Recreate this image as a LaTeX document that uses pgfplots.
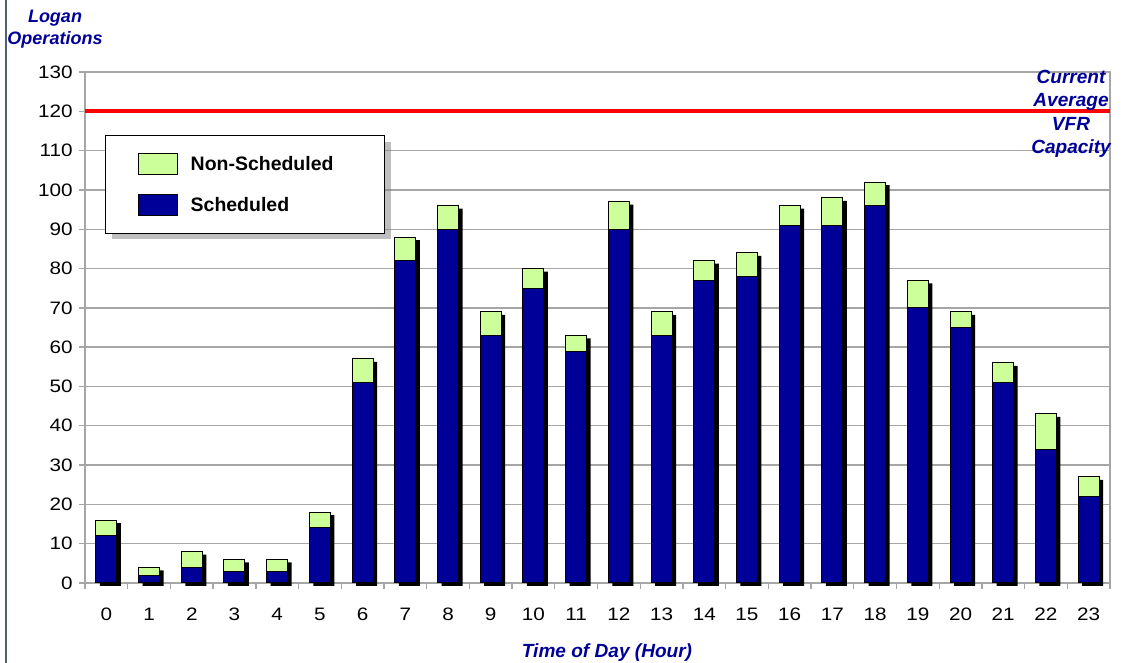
\documentclass[border=0pt]{standalone}
\usepackage{fontspec}
\setmainfont{Liberation Sans}
\newfontfamily\tickfont{Liberation Sans}[FakeStretch=1.15]
\usepackage{pgfplots}
\pgfplotsset{compat=1.18}
\usepackage{pgfplotstable}
\usetikzlibrary{shadows}

\makeatletter
\tikzset{nopre/.code={\let\tikz@preactions\pgfutil@empty}}
\makeatother

\definecolor{navy}{RGB}{0,0,153}
\definecolor{lgreen}{RGB}{204,255,153}
\definecolor{gridgray}{RGB}{166,166,166}
\definecolor{txtblue}{RGB}{0,0,153}
\definecolor{slate}{RGB}{80,96,112}

\pgfplotstableread{
hour sched nonsched total
0 12 4 16
1 2 2 4
2 4 4 8
3 3 3 6
4 3 3 6
5 14 4 18
6 51 6 57
7 82 6 88
8 90 6 96
9 63 6 69
10 75 5 80
11 59 4 63
12 90 7 97
13 63 6 69
14 77 5 82
15 78 6 84
16 91 5 96
17 91 7 98
18 96 6 102
19 70 7 77
20 65 4 69
21 51 5 56
22 34 9 43
23 22 5 27
}\datatable

\begin{document}
\begin{tikzpicture}
\path[use as bounding box] (-63.75pt,-60pt) rectangle (781.5pt,437.25pt);
\pgfplotsset{base/.style={scale only axis, width=768.75pt, height=383.25pt,
  xmin=-0.5, xmax=23.5, ymin=0, ymax=130, enlargelimits=false}}
% background: grid, ticks, red capacity line
\begin{axis}[base,
  axis line style={draw=gridgray, line width=1pt},
  tick pos=left,
  ytick={0,10,...,130}, ymajorgrids,
  grid style={draw=gridgray, line width=1pt},
  xtick={-0.5,0.5,...,23.5}, xticklabels={},
  extra x ticks={0,1,...,23},
  extra x tick labels={0,1,2,3,4,5,6,7,8,9,10,11,12,13,14,15,16,17,18,19,20,21,22,23},
  extra x tick style={major tick length=0pt},
  tick align=outside, major tick length=4.25pt,
  tick style={draw=gridgray, line width=1pt},
  ticklabel style={font=\tickfont\fontsize{13.5}{16}\selectfont},
  /pgf/number format/assume math mode=true,
  xticklabel style={yshift=-15pt},
  yticklabel style={xshift=-1.5pt},
]
\addplot[red, line width=3pt] coordinates {(-0.5,120) (23.5,120)};
\end{axis}
% shadows of bars
\begin{axis}[base, at={(3pt,-2.25pt)}, hide axis, ybar, bar width=15.75pt]
\addplot[fill=black, draw=none] table[x=hour,y=total]{\datatable};
\end{axis}
% stacked bars
\begin{axis}[base, hide axis, ybar stacked, bar width=15.75pt,
  reverse legend, legend cell align=left,
  legend style={at={(0.0195,0.877)}, anchor=north west, draw=black, line width=1.1pt,
    fill=white, drop shadow={shadow xshift=4.5pt, shadow yshift=-4.5pt},
    inner xsep=24pt, inner ysep=13pt, row sep=14.25pt, column sep=9.75pt,
    nodes={inner sep=0pt, text height=12pt, text depth=1.5pt,
      font=\bfseries\fontsize{14.6}{17}\selectfont}},
  sw/.style={legend image code/.code={\draw[nopre, ##1, line width=0.75pt] (0pt,-7.875pt) rectangle (29.25pt,7.875pt);}},
]
\addplot[fill=navy, draw=black, line width=0.75pt, sw] table[x=hour,y=sched]{\datatable};
\addlegendentry{\makebox[121.5pt][l]{Scheduled}}
\addplot[fill=lgreen, draw=black, line width=0.75pt, sw] table[x=hour,y=nonsched]{\datatable};
\addlegendentry{\makebox[121.5pt][l]{Non-Scheduled}}
\end{axis}
\node[font=\bfseries\itshape\fontsize{13.5}{16.5}\selectfont, text=txtblue, align=center] at (-22.5pt,415.5pt) {Logan\\Operations};
\node[font=\bfseries\itshape\fontsize{14.3}{17}\selectfont, text=txtblue] at (391.5pt,-52.25pt) {Time of Day (Hour)};
\node[font=\bfseries\itshape\fontsize{14.3}{17.5}\selectfont, text=txtblue, align=center] at (739.5pt,351.95pt) {Current\\Average\\VFR\\Capacity};
\draw[slate, line width=1.5pt] (-59.25pt,-60pt) -- (-59.25pt,437.25pt);
\end{tikzpicture}
\end{document}
